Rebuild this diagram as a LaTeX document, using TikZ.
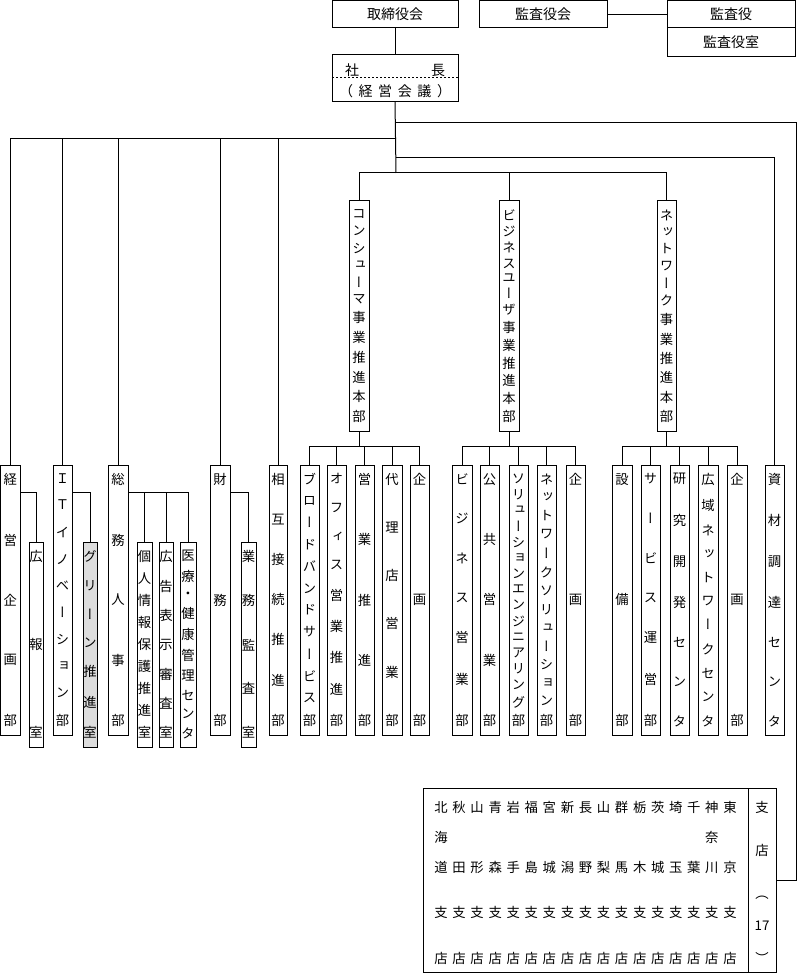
\documentclass[tikz,border=0pt]{standalone}
\usepackage{fontspec}
\setmainfont{Noto Sans CJK JP}
\newfontfamily\vfont[RawFeature=+vert]{Noto Sans CJK JP}
\usetikzlibrary{calc}
\definecolor{grn}{RGB}{221,221,221}
\makeatletter
\newcommand\vtxt[2]{\vbox to #1{\offinterlineskip\let\vt@sep\relax\@tfor\vt@c:=#2\do{\vt@sep\hbox to 0pt{\hss\vt@c\hss}\let\vt@sep\vfill}\kern0pt}}
\makeatother
\tikzset{
  bx/.style={draw,line width=0.75pt,inner sep=0pt,outer sep=0pt,font=\fontsize{10.5}{12}\selectfont},
  vb/.style={draw,line width=0.75pt,inner sep=0pt,outer sep=0pt,font=\fontsize{10}{12}\vfont},
  txt/.style={inner sep=0pt,outer sep=0pt,font=\fontsize{10}{12}\vfont},
  htxt/.style={inner sep=0pt,outer sep=0pt,font=\fontsize{10.5}{12}\selectfont},
  ln/.style={line width=0.75pt}
}
\newcommand\hbx[7][]{\pgfmathsetlengthmacro\myw{(#5-#3)*0.75pt}\pgfmathsetlengthmacro\myh{(#6-#4)*0.75pt}\node[bx,minimum width=\myw,minimum height=\myh,#1] (#2) at ({(#3+#5)/2},{(#4+#6)/2}) {#7};}
\newcommand\vbx[7][]{\pgfmathsetlengthmacro\myw{(#5-#3)*0.75pt}\pgfmathsetlengthmacro\myh{(#6-#4)*0.75pt}\pgfmathsetlengthmacro\myi{(#6-#4-17)*0.75pt}\node[vb,minimum width=\myw,minimum height=\myh,#1] (#2) at ({(#3+#5)/2},{(#4+#6)/2}) {\vtxt{\myi}{#7}};}
\begin{document}
\begin{tikzpicture}[x=0.75pt,y=-0.75pt]
\useasboundingbox (0,0) rectangle (797,973);
% top
\hbx{tori}{332}{1}{458}{28}{取締役会}
\hbx{kansakai}{479}{1}{607}{28}{監査役会}
\hbx{kansayaku}{667}{1}{795}{28}{監査役}
\hbx{kansashitsu}{667}{28}{795}{57}{監査役室}
\hbx{shacho}{332}{55}{458}{102}{}
\node[htxt] (shA) at (395,70) {\makebox[75pt][s]{社\hfill 長}};
\node[htxt] (shB) at (395,91.5) {\makebox[84pt][s]{（\hfill 経\hfill 営\hfill 会\hfill 議\hfill ）}};
\draw[ln,dash pattern=on 1.5pt off 1.5pt] ($(shacho.north west)+(0,23)$) -- ($(shacho.north east)+(0,23)$);
\draw[ln] (tori.south) -- (shacho.north);
\draw[ln] (kansakai.east) -- (kansakai.east -| kansayaku.west);
% left departments
\vbx{keiei}{0.5}{465}{20}{735}{経営企画部}
\vbx{it}{53}{465}{72}{735}{ＩＴイノベーション部}
\vbx{somu}{108}{465}{128}{735}{総務人事部}
\vbx{zaimu}{210}{465}{230}{735}{財務部}
\vbx{sogo}{269}{465}{287}{735}{相互接続推進部}
\vbx{koho}{29}{542}{43}{747}{広報室}
\vbx[fill=grn]{green}{83}{542}{97}{747}{グリーン推進室}
\vbx{kojin}{137}{542}{152}{747}{個人情報保護推進室}
\vbx{kokoku}{159}{542}{173}{747}{広告表示審査室}
\vbx{iryo}{180}{542}{196}{747}{医療・健康管理センタ}
\vbx{gyomu}{241}{542}{256}{747}{業務監査室}
% headquarters
\vbx{cons}{349}{201}{369}{431}{コンシューマ事業推進本部}
\vbx{biz}{499}{201}{519}{431}{ビジネスユーザ事業推進本部}
\vbx{net}{657}{201}{676}{431}{ネットワーク事業推進本部}
\vbx{c1}{300}{465}{319}{735}{ブロードバンドサービス部}
\vbx{c2}{327}{465}{346}{735}{オフィス営業推進部}
\vbx{c3}{355}{465}{374}{735}{営業推進部}
\vbx{c4}{382}{465}{402}{735}{代理店営業部}
\vbx{c5}{410}{465}{429}{735}{企画部}
\vbx{b1}{452}{465}{472}{735}{ビジネス営業部}
\vbx{b2}{480}{465}{499}{735}{公共営業部}
\vbx{b3}{509}{465}{528}{735}{ソリューションエンジニアリング部}
\vbx{b4}{537}{465}{556}{735}{ネットワークソリューション部}
\vbx{b5}{566}{465}{585}{735}{企画部}
\vbx{n1}{612}{465}{632}{735}{設備部}
\vbx{n2}{641}{465}{660}{735}{サービス運営部}
\vbx{n3}{670}{465}{689}{735}{研究開発センタ}
\vbx{n4}{698}{465}{718}{735}{広域ネットワークセンタ}
\vbx{n5}{727}{465}{747}{735}{企画部}
\vbx{shizai}{765}{465}{784}{735}{資材調達センタ}
% branches
\hbx{br}{423}{788}{748}{972}{}
\hbx{brr}{748}{788}{776}{972}{}
\foreach \a/\b/\c [count=\i] in {北/海/道,秋//田,山//形,青//森,岩//手,福//島,宮//城,新//潟,長//野,山//梨,群//馬,栃//木,茨//城,埼//玉,千//葉,神/奈/川,東//京}{
  \node[txt,anchor=base] (col\i) at ({441+(\i-1)*18.06},963) {\vbox{\lineskiplimit=-\maxdimen\lineskip=0pt\baselineskip=22.5pt
    \hbox to 0pt{\hss\a\hss}\hbox to 0pt{\hss\b\hss}\hbox to 0pt{\hss\c\hss}\baselineskip=34pt
    \hbox to 0pt{\hss 支\hss}\hbox to 0pt{\hss 店\hss}}};
}
\node[txt,anchor=base] (brt) at (762,963) {\vbox{\lineskiplimit=-\maxdimen\lineskip=0pt\baselineskip=32.25pt
  \hbox to 0pt{\hss 支\hss}\hbox to 0pt{\hss 店\hss}\hbox to 0pt{\hss ︵\hss}\baselineskip=24pt
  \hbox to 0pt{\hss 17\hss}\baselineskip=24.75pt\hbox to 0pt{\hss ︶\hss}}};
% connectors
\coordinate (r1) at (396,123);
\coordinate (lbus) at (396,139);
\coordinate (r2) at (396,158);
\coordinate (hq) at (396,173);
\coordinate (rc) at (796,880);
\draw[ln] (shacho.south) -- (hq);
\draw[ln] (r1) -| (rc) -- (brr.east);
\draw[ln] (r2) -| (shizai.north);
\foreach \n in {keiei,it,somu,zaimu,sogo} \draw[ln] (lbus) -| (\n.north);
\foreach \n in {cons,biz,net} \draw[ln] (hq) -| (\n.north);
\draw[ln] ($(keiei.north east)+(0,27)$) -| (koho.north);
\draw[ln] ($(it.north east)+(0,27)$) -| (green.north);
\foreach \n in {kojin,kokoku,iryo} \draw[ln] ($(somu.north east)+(0,27)$) -| (\n.north);
\draw[ln] ($(zaimu.north east)+(0,27)$) -| (gyomu.north);
\path (cons.south) ++(0,15) coordinate (cb);
\path (biz.south) ++(0,15) coordinate (bb);
\path (net.south) ++(0,15) coordinate (nb);
\draw[ln] (cons.south) -- (cb);
\draw[ln] (biz.south) -- (bb);
\draw[ln] (net.south) -- (nb);
\foreach \n in {c1,c2,c3,c4,c5} \draw[ln] (cb) -| (\n.north);
\foreach \n in {b1,b2,b3,b4,b5} \draw[ln] (bb) -| (\n.north);
\foreach \n in {n1,n2,n3,n4,n5} \draw[ln] (nb) -| (\n.north);
\end{tikzpicture}
\end{document}
